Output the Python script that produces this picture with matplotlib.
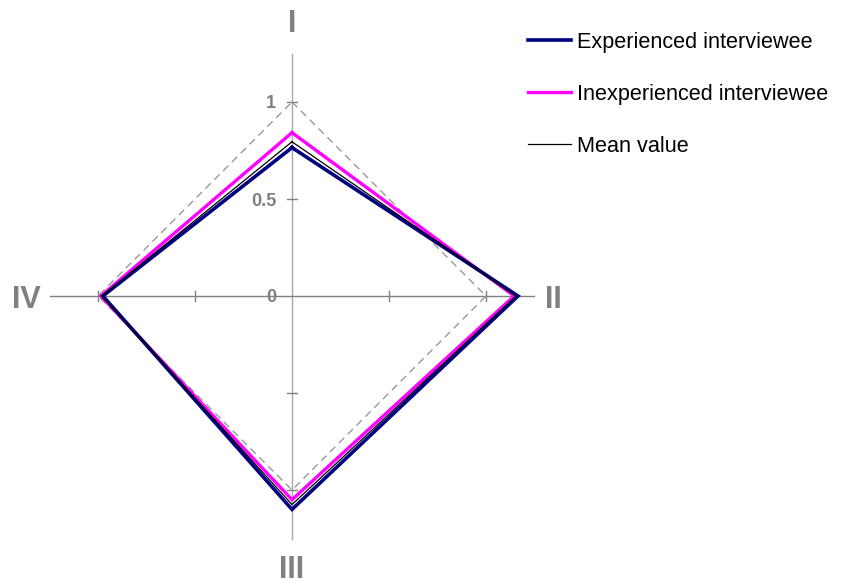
import matplotlib
matplotlib.use("Agg")
import matplotlib.pyplot as plt
import numpy as np

plt.rcParams['font.family'] = ['Liberation Sans', 'DejaVu Sans']

axis_labels = ["I", "II", "III", "IV"]
experienced = [0.765, 1.165, 1.10, 0.975]
inexperienced = [0.842, 1.145, 1.05, 0.985]
mean_value = [0.795, 1.155, 1.075, 0.98]
reference = [1.0, 1.0, 1.0, 1.0]
tick_values = [0.5, 1.0]
tick_labels = ["0", "0.5", "1"]

# axis directions: I up, II right, III down, IV left
dirs = np.array([[0, 1], [1, 0], [0, -1], [-1, 0]], dtype=float)
rmax = 1.25

def to_xy(vals):
    v = np.asarray(vals, dtype=float)
    pts = dirs * v[:, None]
    pts = np.vstack([pts, pts[:1]])
    return pts[:, 0], pts[:, 1]

W, H = 845, 584
fig = plt.figure(figsize=(W / 100, H / 100), dpi=100)
ax = fig.add_axes([0, 0, 1, 1])
cx, cy, unit = 292, 296, 194.0
ax.set_xlim(-cx / unit, (W - cx) / unit)
ax.set_ylim(-(H - cy) / unit, cy / unit)
ax.axis('off')

def px(xp, yp):
    return (xp - cx) / unit, (cy - yp) / unit

# axes lines
ax.plot([0, 0], [-rmax, rmax], color='#a8a8a8', lw=1.0, zorder=1)
ax.plot([-rmax, rmax], [0, 0], color='#808080', lw=1.0, zorder=1)
# tick marks
tl = 0.025
for t in tick_values:
    for d in dirs:
        p = d * t
        perp = np.array([-d[1], d[0]])
        ax.plot([p[0] - perp[0] * tl, p[0] + perp[0] * tl],
                [p[1] - perp[1] * tl, p[1] + perp[1] * tl],
                color='#808080', lw=1.0, zorder=1)

# reference square
x, y = to_xy(reference)
ax.plot(x, y, color='#909090', lw=0.9, ls=(0, (6, 4)), zorder=2)

# series
x, y = to_xy(inexperienced)
l2, = ax.plot(x, y, color='#ff00ff', lw=2.4, zorder=3, solid_joinstyle='miter',
              label='Inexperienced interviewee')
x, y = to_xy(experienced)
l1, = ax.plot(x, y, color='#000080', lw=2.6, zorder=4, solid_joinstyle='miter',
              label='Experienced interviewee')
x, y = to_xy(mean_value)
l3, = ax.plot(x, y, color='black', lw=0.9, zorder=5, solid_joinstyle='miter',
              label='Mean value')

# tick labels on top axis
for t, lab in zip([0.0] + tick_values, tick_labels):
    ax.text(-0.082, t - 6.5 / unit, lab, ha='right', va='baseline', color='#808080',
            fontsize=13, fontweight='bold')

# roman numeral labels (baseline positions in pixels)
lab_pos = [px(292, 32), px(553, 308), px(292, 578), px(26, 308)]
for (lx, ly), lab in zip(lab_pos, axis_labels):
    ax.text(lx, ly, lab, ha='center', va='baseline', color='#808080',
            fontsize=22, fontweight='bold')

leg = fig.legend([l1, l2, l3],
                 ['Experienced interviewee', 'Inexperienced interviewee', 'Mean value'],
                 loc='upper left', bbox_to_anchor=(528 / W, 1 - 32 / H),
                 frameon=False, fontsize=15.6, handlelength=1.98,
                 handletextpad=0.28, labelspacing=1.42, borderpad=0,
                 borderaxespad=0)

fig.savefig('out.png', dpi=100)
